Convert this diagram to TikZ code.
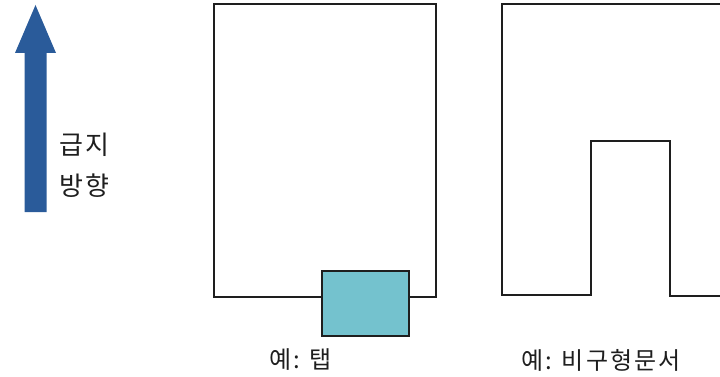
\documentclass[tikz,border=0pt]{standalone}
\usepackage{fontspec}
\setmainfont{Noto Sans CJK KR}
\newfontfamily\spacedfont[LetterSpace=9]{Noto Sans CJK KR}
\definecolor{arrowblue}{HTML}{2A5B9A}
\definecolor{tabcyan}{HTML}{74C2CE}
\definecolor{edge}{HTML}{1E1E1E}
\tikzset{
  outline/.style={draw=edge, line width=2.4pt},
  lbl/.style={font=\spacedfont\fontsize{24}{28}\selectfont, inner sep=0pt, text=edge},
  side/.style={font=\spacedfont\fontsize{26}{30}\selectfont, inner sep=0pt, text=edge, anchor=west}
}
\begin{document}
\begin{tikzpicture}[x=1pt,y=-1pt]
\useasboundingbox (0,0) rectangle (720,377);
\clip (0,0) rectangle (720,377);
% feed direction arrow
\fill[arrowblue] (24.5,212) -- (24.5,53) -- (15,53) -- (35.5,5) -- (56,53) -- (46.5,53) -- (46.5,212) -- cycle;
\node[side] (t1) at (59,145) {급지};
\node[side] (t2) at (59,186) {방향};
% left sheet with tab
\draw[outline] (214,4) rectangle (436,297);
\node[draw=edge, line width=1.2pt, fill=tabcyan, minimum width=87pt, minimum height=65pt, inner sep=0pt] (tab) at (365.5,303.5) {};
\node[lbl] (l1) at (300.5,360) {예:\hspace{10pt}탭};
% right sheet irregular
\draw[outline] (724,4) -- (502,4) -- (502,295) -- (591,295) -- (591,141) -- (670,141) -- (670,296) -- (724,296);
\node[lbl] (l2) at (601,360) {예:\hspace{10pt}비구형문서};
\end{tikzpicture}
\end{document}
